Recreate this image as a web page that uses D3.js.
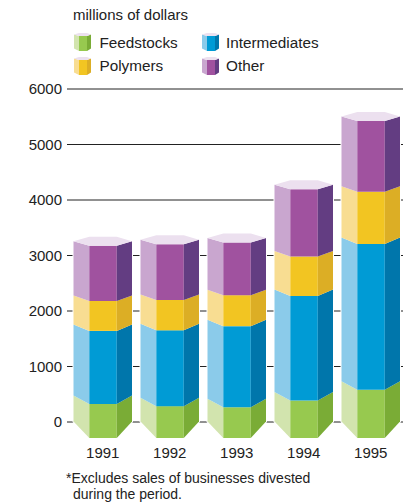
<!DOCTYPE html>
<html>
<head>
<meta charset="utf-8">
<script src="https://cdn.jsdelivr.net/npm/d3@7"></script>
<style>
html,body{margin:0;padding:0;background:#fff}
svg{display:block}
text{font-family:"Liberation Sans",Arial,sans-serif;fill:#222}
</style>
</head>
<body>
<svg id="chart" width="403" height="504"></svg>
<script>
const years = ["1991","1992","1993","1994","1995"];
const feedstocks = [470,430,410,530,725];
const intermediates = [1280,1330,1425,1850,2590];
const polymers = [520,530,540,690,925];
const other = [980,985,930,1195,1255];
const tickValues = [0,1000,2000,3000,4000,5000,6000];
const seriesNames = ["Feedstocks","Intermediates","Polymers","Other"];
const seriesValues = [feedstocks,intermediates,polymers,other];
const faceColors = [
  {left:"#d2e4ae",front:"#97c94f",right:"#7aac36"},
  {left:"#8bcbea",front:"#009bd5",right:"#0076ab"},
  {left:"#f8dd92",front:"#f2c522",right:"#dcae25"},
  {left:"#c9a6cf",front:"#a0529f",right:"#633d82"}
];
const capColor = "#ece0ef";
const depthByLevel = [16.5,8.5,6.5,5.5,4.5];
const innerL = 0.27, innerR = 0.74;

const svg = d3.select("#chart");
const y = d3.scaleLinear().domain([0,6000]).range([421.5,88.5]);
const x = d3.scaleBand().domain(years).range([73.5,400]).paddingInner(8.5/67);

const rows = years.map((yr,i)=>{
  const r = {year:yr};
  seriesNames.forEach((n,k)=>r[n]=seriesValues[k][i]);
  return r;
});
const stacked = d3.stack().keys(seriesNames)(rows);

// axis with gridlines
const axis = d3.axisLeft(y).tickValues(tickValues).tickSize(-336).tickPadding(5).tickFormat(d3.format("d"));
const gAxis = svg.append("g").attr("transform","translate(67,0)").call(axis);
gAxis.select(".domain").remove();
gAxis.selectAll(".tick line").attr("stroke","#222").attr("stroke-width",1);
gAxis.selectAll(".tick text").attr("font-size",15).attr("fill","#222").attr("dy","0.34em");

const poly = pts => pts.map(p=>p.join(",")).join(" ");

// bars
years.forEach((yr,i)=>{
  const g = svg.append("g");
  const x0 = x(yr), w = x.bandwidth(), x1 = x0+w;
  const xa = x0+w*innerL, xb = x0+w*innerR;
  const yTop = y(stacked[3][i][1]), yBase = y(0);
  // white halo
  g.append("polygon").attr("points",poly([[x0,yTop],[xa,yTop-depthByLevel[4]],[xb,yTop-depthByLevel[4]],[x1,yTop],[x1,yBase],[xb,yBase+depthByLevel[0]],[xa,yBase+depthByLevel[0]],[x0,yBase]]))
    .attr("fill","#fff").attr("stroke","#fff").attr("stroke-width",2);
  stacked.forEach((s,k)=>{
    const c = faceColors[k];
    const y0 = y(s[i][0]), y1 = y(s[i][1]);
    const d0 = depthByLevel[k], d1 = depthByLevel[k+1];
    g.append("polygon").attr("fill",c.left).attr("points",poly([[x0,y1],[xa,y1+d1],[xa,y0+d0],[x0,y0]]));
    g.append("polygon").attr("fill",c.front).attr("points",poly([[xa,y1+d1],[xb,y1+d1],[xb,y0+d0],[xa,y0+d0]]));
    g.append("polygon").attr("fill",c.right).attr("points",poly([[xb,y1+d1],[x1,y1],[x1,y0],[xb,y0+d0]]));
  });
  const d = depthByLevel[4];
  g.append("polygon").attr("fill",capColor).attr("points",poly([[x0,yTop],[xa,yTop-d],[xb,yTop-d],[x1,yTop],[xb,yTop+d],[xa,yTop+d]]));
  svg.append("text").attr("x",x0+w/2).attr("y",458).attr("text-anchor","middle").attr("font-size",15).text(yr);
});

// title
svg.append("text").attr("x",73).attr("y",20).attr("font-size",15).text("millions of dollars");

// legend
const legendPos = [[74,33,99.5,48],[202,33,226,48],[74,57,99.5,71],[202,57,226,71]];
seriesNames.forEach((n,k)=>{
  const [lx,ly,tx,ty] = legendPos[k];
  const c = faceColors[k], g = svg.append("g").attr("transform",`translate(${lx},${ly})`);
  g.append("polygon").attr("fill",c.left).attr("points",poly([[0,1.5],[5,3],[5,18],[0,15.5]]));
  g.append("polygon").attr("fill",c.front).attr("points",poly([[5,3],[13,3],[13,18],[5,18]]));
  g.append("polygon").attr("fill",c.right).attr("points",poly([[13,3],[17,1.5],[17,15.5],[13,18]]));
  g.append("polygon").attr("fill",capColor).attr("points",poly([[0,1.5],[5,0],[13,0],[17,1.5],[13,3],[5,3]]));
  svg.append("text").attr("x",tx).attr("y",ty).attr("font-size",15.3).text(n);
});

// footnote
svg.append("text").attr("x",66).attr("y",483).attr("font-size",14).text("*Excludes sales of businesses divested");
svg.append("text").attr("x",73).attr("y",499).attr("font-size",14).text("during the period.");
</script>
</body>
</html>
